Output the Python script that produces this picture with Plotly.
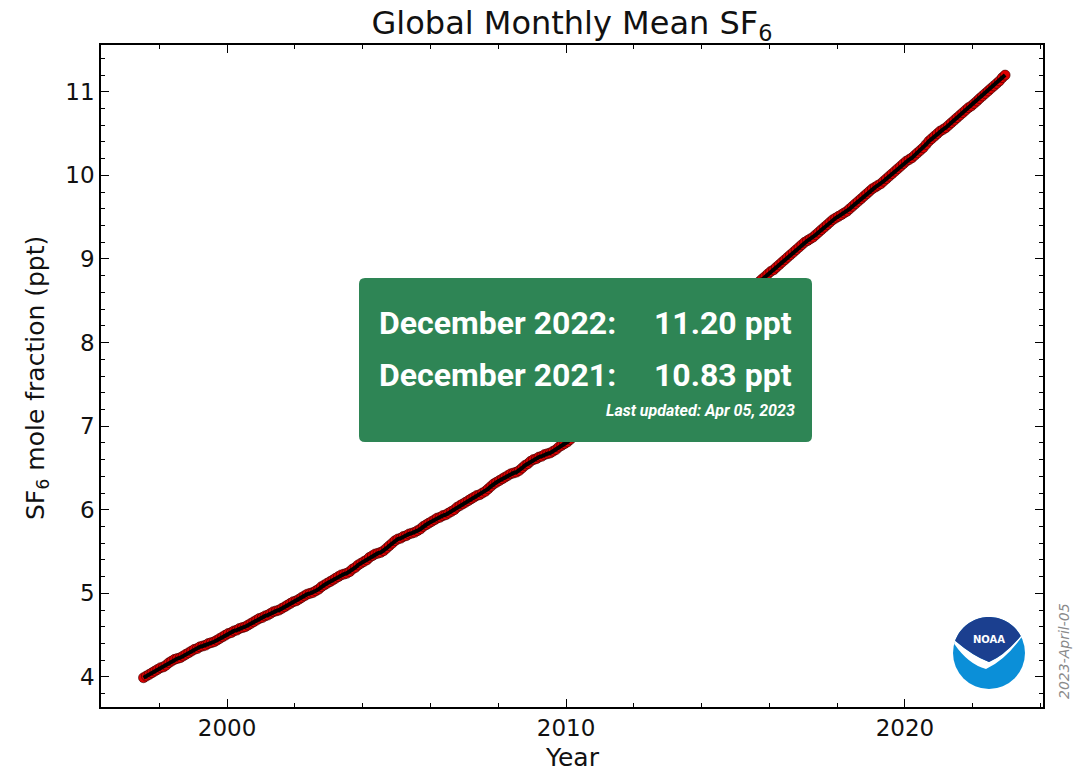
import math
import pandas as pd
import plotly.graph_objects as go

# Global monthly mean SF6 mole fraction (ppt), one list per year
sf6_1997 = [3.99, 4.01, 4.03, 4.05, 4.07, 4.09]  # Jul-Dec
sf6_1998 = [4.11, 4.12, 4.14, 4.17, 4.19, 4.21, 4.22, 4.23, 4.25, 4.27, 4.29, 4.31]
sf6_1999 = [4.33, 4.34, 4.36, 4.37, 4.38, 4.40, 4.41, 4.42, 4.44, 4.46, 4.48, 4.50]
sf6_2000 = [4.52, 4.53, 4.55, 4.56, 4.58, 4.59, 4.60, 4.62, 4.64, 4.66, 4.68, 4.70]
sf6_2001 = [4.71, 4.73, 4.74, 4.76, 4.78, 4.79, 4.80, 4.82, 4.84, 4.86, 4.88, 4.90]
sf6_2002 = [4.91, 4.93, 4.95, 4.97, 4.99, 5.00, 5.01, 5.03, 5.05, 5.08, 5.10, 5.12]
sf6_2003 = [5.14, 5.16, 5.18, 5.20, 5.22, 5.23, 5.24, 5.26, 5.29, 5.31, 5.34, 5.36]
sf6_2004 = [5.38, 5.40, 5.43, 5.45, 5.47, 5.48, 5.49, 5.51, 5.54, 5.57, 5.60, 5.63]
sf6_2005 = [5.65, 5.66, 5.68, 5.69, 5.71, 5.72, 5.73, 5.75, 5.77, 5.80, 5.82, 5.84]
sf6_2006 = [5.86, 5.88, 5.90, 5.91, 5.93, 5.94, 5.96, 5.98, 6.00, 6.03, 6.05, 6.07]
sf6_2007 = [6.09, 6.11, 6.13, 6.15, 6.17, 6.18, 6.20, 6.22, 6.25, 6.28, 6.31, 6.33]
sf6_2008 = [6.35, 6.37, 6.39, 6.41, 6.43, 6.44, 6.45, 6.47, 6.50, 6.53, 6.55, 6.58]
sf6_2009 = [6.60, 6.61, 6.63, 6.64, 6.66, 6.67, 6.68, 6.70, 6.72, 6.75, 6.77, 6.79]
sf6_2010 = [6.81, 6.84, 6.87, 6.89, 6.91, 6.94, 6.97, 7.00, 7.03, 7.06, 7.09, 7.12]
sf6_2011 = [7.15, 7.17, 7.20, 7.22, 7.25, 7.28, 7.31, 7.34, 7.37, 7.40, 7.43, 7.46]
sf6_2012 = [7.49, 7.51, 7.53, 7.56, 7.59, 7.62, 7.65, 7.68, 7.71, 7.74, 7.77, 7.80]
sf6_2013 = [7.83, 7.85, 7.87, 7.90, 7.93, 7.96, 7.99, 8.02, 8.05, 8.08, 8.11, 8.14]
sf6_2014 = [8.17, 8.19, 8.21, 8.24, 8.27, 8.30, 8.33, 8.36, 8.39, 8.42, 8.45, 8.48]
sf6_2015 = [8.51, 8.53, 8.55, 8.58, 8.61, 8.64, 8.67, 8.70, 8.73, 8.76, 8.79, 8.82]
sf6_2016 = [8.85, 8.87, 8.90, 8.93, 8.96, 8.99, 9.02, 9.05, 9.08, 9.11, 9.14, 9.17]
sf6_2017 = [9.20, 9.22, 9.24, 9.26, 9.29, 9.32, 9.35, 9.38, 9.41, 9.44, 9.47, 9.49]
sf6_2018 = [9.51, 9.53, 9.55, 9.57, 9.60, 9.63, 9.66, 9.69, 9.72, 9.75, 9.78, 9.81]
sf6_2019 = [9.84, 9.86, 9.88, 9.90, 9.93, 9.96, 9.99, 10.02, 10.05, 10.08, 10.11, 10.14]
sf6_2020 = [10.17, 10.19, 10.21, 10.24, 10.27, 10.30, 10.33, 10.37, 10.41, 10.44, 10.47, 10.50]
sf6_2021 = [10.53, 10.55, 10.57, 10.60, 10.63, 10.66, 10.69, 10.72, 10.75, 10.78, 10.81, 10.83]
sf6_2022 = [10.86, 10.89, 10.92, 10.95, 10.98, 11.01, 11.04, 11.07, 11.10, 11.13, 11.17, 11.20]

yearly = [sf6_1997, sf6_1998, sf6_1999, sf6_2000, sf6_2001, sf6_2002, sf6_2003,
          sf6_2004, sf6_2005, sf6_2006, sf6_2007, sf6_2008, sf6_2009, sf6_2010,
          sf6_2011, sf6_2012, sf6_2013, sf6_2014, sf6_2015, sf6_2016, sf6_2017,
          sf6_2018, sf6_2019, sf6_2020, sf6_2021, sf6_2022]
sf6 = [v for year in yearly for v in year]
months = pd.date_range("1997-07-01", "2022-12-01", freq="MS") + pd.Timedelta(days=14)

x_ticks = [2000, 2010, 2020]
y_ticks = [4, 5, 6, 7, 8, 9, 10, 11]
updated = "Apr 05, 2023"
stamp = "2023-April-05"

W, H = 1089, 771
L, R, T, B = 101, 46, 45, 64
PW, PH = W - L - R, H - T - B


def px(x):
    return (x - L) / PW


def py(y):
    return (H - B - y) / PH


def path_from(points, close=True):
    s = "M " + " L ".join(f"{px(x):.5f},{py(y):.5f}" for x, y in points)
    return s + (" Z" if close else "")


fig = go.Figure()
fig.add_trace(go.Scatter(
    x=months, y=sf6, mode="markers",
    marker=dict(size=10, color="#dd0000", line=dict(color="#300000", width=0.6)),
    showlegend=False, hoverinfo="skip",
))
fig.add_trace(go.Scatter(
    x=months, y=sf6, mode="lines",
    line=dict(color="black", width=4),
    showlegend=False,
))

axis_font = dict(family="DejaVu Sans", size=23, color="#111111")
fig.update_xaxes(
    range=["1996-04-13", "2024-01-27"],
    tickmode="array",
    tickvals=[f"{y}-01-01" for y in x_ticks],
    ticktext=[str(y) for y in x_ticks],
    ticks="inside", ticklen=8, tickwidth=1.2, tickcolor="black",
    minor=dict(ticks="inside", ticklen=4, tickwidth=1, tickcolor="black",
               dtick="M24", tick0="2000-01-01"),
    showline=True, linewidth=1.6, linecolor="black", mirror="allticks",
    showgrid=False, zeroline=False, tickfont=axis_font,
)
fig.update_yaxes(
    range=[3.64, 11.56],
    tickmode="array", tickvals=y_ticks, ticktext=[str(v) for v in y_ticks],
    ticks="inside", ticklen=8, tickwidth=1.2, tickcolor="black",
    minor=dict(ticks="inside", ticklen=4, tickwidth=1, tickcolor="black",
               dtick=0.2, tick0=4),
    showline=True, linewidth=1.6, linecolor="black", mirror="allticks",
    showgrid=False, zeroline=False, tickfont=axis_font,
)

shapes = []

# Summary panel with rounded corners
bx0, bx1, by0, by1, rad = 359, 812, 278, 442, 6
panel = (
    f"M {px(bx0 + rad)},{py(by0)} L {px(bx1 - rad)},{py(by0)} "
    f"Q {px(bx1)},{py(by0)} {px(bx1)},{py(by0 + rad)} "
    f"L {px(bx1)},{py(by1 - rad)} Q {px(bx1)},{py(by1)} {px(bx1 - rad)},{py(by1)} "
    f"L {px(bx0 + rad)},{py(by1)} Q {px(bx0)},{py(by1)} {px(bx0)},{py(by1 - rad)} "
    f"L {px(bx0)},{py(by0 + rad)} Q {px(bx0)},{py(by0)} {px(bx0 + rad)},{py(by0)} Z"
)
shapes.append(dict(type="path", path=panel, xref="paper", yref="paper",
                   fillcolor="#2e8555", line=dict(width=0), layer="above"))

# Agency emblem
cx, cy, cr = 989, 653, 36
shapes.append(dict(type="circle", xref="paper", yref="paper",
                   x0=px(cx - cr), x1=px(cx + cr), y0=py(cy + cr), y1=py(cy - cr),
                   fillcolor="#0b8fd8", line=dict(width=0), layer="above"))


def arc(a0, a1, n=40):
    return [(cx + cr * math.cos(math.radians(a0 + (a1 - a0) * i / n)),
             cy - cr * math.sin(math.radians(a0 + (a1 - a0) * i / n))) for i in range(n + 1)]


top = arc(160, 28)
lx, ly = top[0]
rx, ry = top[-1]
white = (path_from([(lx - 1, ly + 3)], close=False)
         + f" Q {px(968)},{py(664)} {px(986)},{py(669)}"
         + f" Q {px(1006)},{py(660)} {px(rx + 3)},{py(ry - 2)}"
         + f" L {px(rx)},{py(ry)}"
         + f" Q {px(1004)},{py(656)} {px(989)},{py(662)}"
         + f" Q {px(973)},{py(656)} {px(lx)},{py(ly)} Z")
shapes.append(dict(type="path", path=white, xref="paper", yref="paper",
                   fillcolor="white", line=dict(width=0), layer="above"))
dark = (path_from(top, close=False)
        + f" Q {px(1004)},{py(656)} {px(989)},{py(662)}"
        + f" Q {px(973)},{py(656)} {px(lx)},{py(ly)} Z")
shapes.append(dict(type="path", path=dark, xref="paper", yref="paper",
                   fillcolor="#1b3f8f", line=dict(width=0), layer="above"))

latest, year_ago = sf6[-1], sf6[-13]
big = dict(family="Roboto", size=32, color="white")
annotations = [
    dict(text="<b>December 2022:</b>", x=px(377), y=py(323), xanchor="left", yanchor="middle", font=big),
    dict(text=f"<b>{latest:.2f} ppt</b>", x=px(794), y=py(323), xanchor="right", yanchor="middle", font=big),
    dict(text="<b>December 2021:</b>", x=px(377), y=py(375), xanchor="left", yanchor="middle", font=big),
    dict(text=f"<b>{year_ago:.2f} ppt</b>", x=px(794), y=py(375), xanchor="right", yanchor="middle", font=big),
    dict(text=f"<b><i>Last updated: {updated}</i></b>", x=px(797), y=py(410),
         xanchor="right", yanchor="middle", font=dict(family="Roboto", size=16, color="white")),
    dict(text="SF<sub>6</sub> mole fraction (ppt)", x=px(37), y=py(378), textangle=-90,
         xanchor="center", yanchor="middle", font=dict(family="DejaVu Sans", size=25, color="#111111")),
    dict(text="Year", x=0.5, y=py(757), xanchor="center", yanchor="middle",
         font=dict(family="DejaVu Sans", size=25, color="#111111")),
    dict(text="<b>NOAA</b>", x=px(989), y=py(639), xanchor="center", yanchor="middle",
         font=dict(family="DejaVu Sans", size=10, color="white")),
    dict(text=f"<i>{stamp}</i>", x=px(1064), y=py(651), textangle=-90,
         xanchor="center", yanchor="middle", font=dict(family="DejaVu Sans", size=14, color="#8a8a8a")),
]
for a in annotations:
    a.update(xref="paper", yref="paper", showarrow=False)

fig.update_layout(
    width=W, height=H,
    margin=dict(l=L, r=R, t=T, b=B),
    paper_bgcolor="white", plot_bgcolor="white",
    title=dict(text="Global Monthly Mean SF<sub>6</sub>", x=px(572), xref="paper",
               xanchor="center", y=1 - 23 / H, yanchor="middle",
               font=dict(family="DejaVu Sans", size=32, color="#111111")),
    shapes=shapes,
    annotations=annotations,
)

fig.write_html("out.html")
